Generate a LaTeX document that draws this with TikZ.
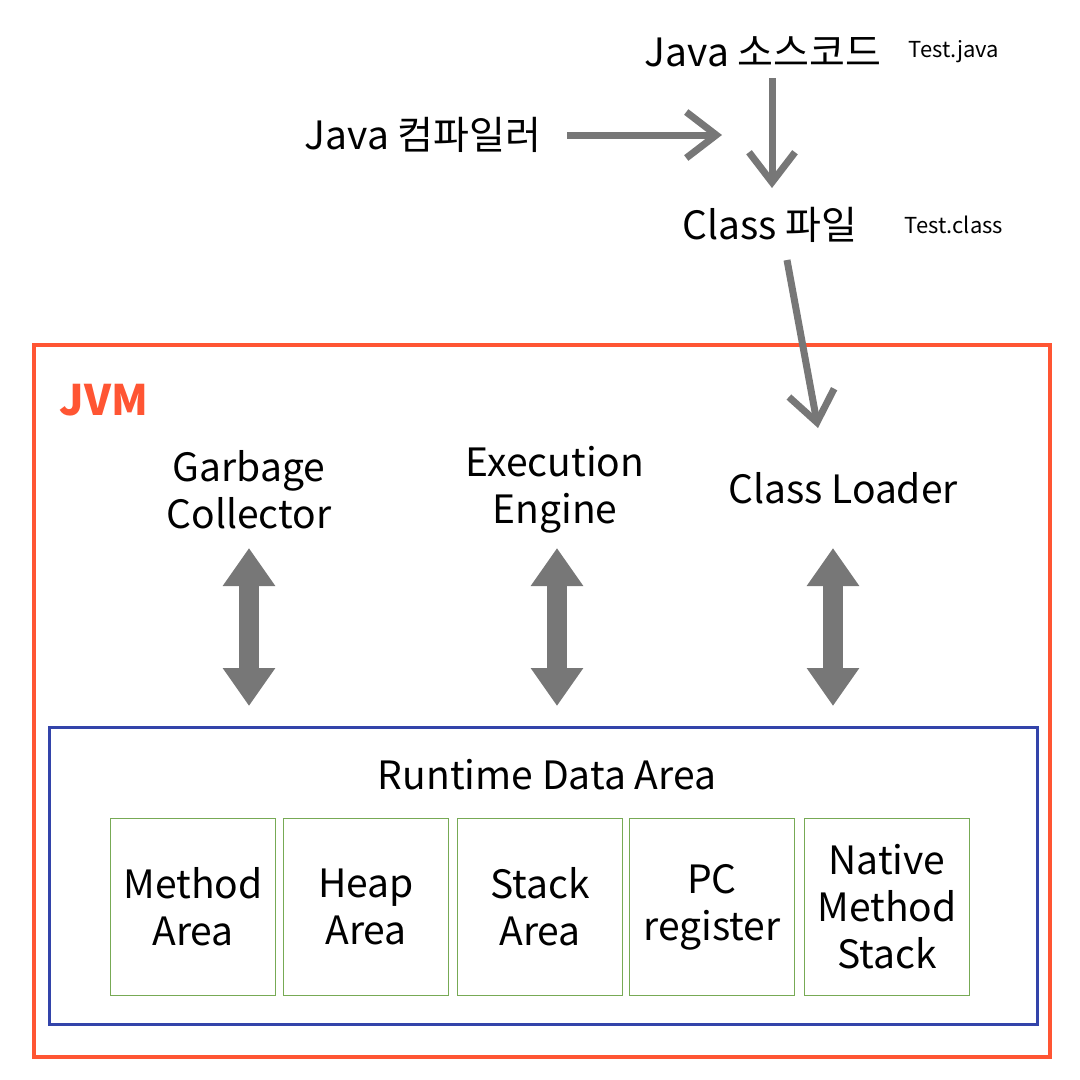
\documentclass[tikz,border=0pt]{standalone}
\usepackage{fontspec}
\setmainfont{Noto Sans CJK KR}
\usetikzlibrary{arrows.meta}
\definecolor{jvm}{HTML}{FF5533}
\definecolor{rda}{HTML}{3344AA}
\definecolor{grn}{HTML}{77AA55}
\definecolor{gry}{HTML}{777777}
\tikzset{
 lbl/.style={font=\fontsize{39}{47}\selectfont, align=center, inner sep=0},
 sml/.style={font=\fontsize{22}{26}\selectfont, inner sep=0},
 chev/.style={draw=gry, line width=7pt, -{Straight Barb[length=30pt 0,width=46pt 0,line width=7pt]}},
 dbl/.style={draw=gry, line width=20pt, {Triangle[length=38pt 0,width=50pt 0]}-{Triangle[length=38pt 0,width=50pt 0]}, gry},
 mem/.style={draw=grn, line width=1pt, minimum width=165pt, minimum height=177pt, anchor=north west, lbl}
}
\begin{document}
\begin{tikzpicture}[x=1pt,y=-1pt]
\useasboundingbox (0,0) rectangle (1080,1080);
\node[draw=jvm, line width=4pt, minimum width=1016pt, minimum height=712pt, anchor=north west, inner sep=0] (jvmbox) at (32,343) {};
\node[font=\fontsize{42}{46}\selectfont\bfseries, text=jvm, inner sep=0] (jvmt) at (104,400) {JVM};
\node[draw=rda, line width=2.5pt, minimum width=988pt, minimum height=297pt, anchor=north west, inner sep=0] (rdabox) at (48,726) {};
\node[lbl] (rdat) at (547,775) {Runtime Data Area};
\node[mem] (m1) at (110,818) {Method\\Area};
\node[mem] (m2) at (283,818) {Heap\\Area};
\node[mem] (m3) at (457,818) {Stack\\Area};
\node[mem] (m4) at (629,818) {PC\\register};
\node[mem] (m5) at (804,818) {Native\\Method\\Stack};
\node[lbl] (gc) at (249,490) {Garbage\\Collector};
\node[lbl] (ee) at (555,490) {Execution\\Engine};
\node[lbl] (cl) at (843,488) {Class Loader};
\coordinate (g1) at (249,548); \coordinate (g2) at (249,706);
\coordinate (e1) at (557,548); \coordinate (e2) at (557,706);
\coordinate (c1) at (833,548); \coordinate (c2) at (833,706);
\draw[dbl] (g1) -- (g2);
\draw[dbl] (e1) -- (e2);
\draw[dbl] (c1) -- (c2);
\node[lbl] (src) at (763,52) {Java 소스코드};
\node[sml] (tj) at (954,52) {Test.java};
\node[lbl] (comp) at (423,135) {Java 컴파일러};
\node[lbl] (cls) at (770,225) {Class 파일};
\node[sml] (tc) at (954,225) {Test.class};
\coordinate (a1) at (567,135); \coordinate (a2) at (722,135);
\coordinate (b1) at (772,78); \coordinate (b2) at (772,188);
\coordinate (d1) at (787,260); \coordinate (d2) at (818,428);
\draw[chev] (a1) -- (a2);
\draw[chev] (b1) -- (b2);
\draw[chev] (d1) -- (d2);
\end{tikzpicture}
\end{document}
